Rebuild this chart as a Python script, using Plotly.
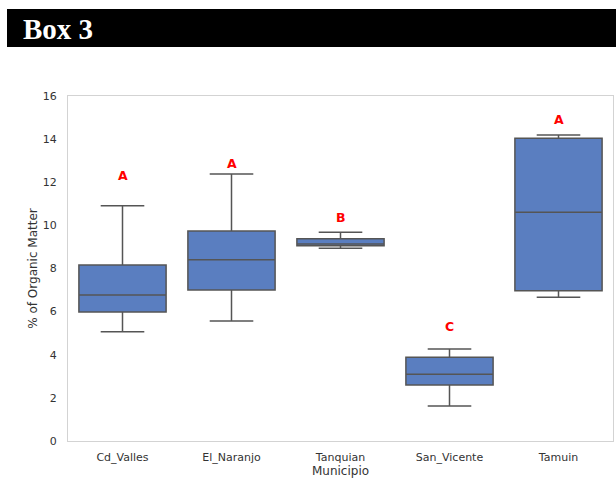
import plotly.graph_objects as go

categories = ["Cd_Valles", "El_Naranjo", "Tanquian", "San_Vicente", "Tamuin"]
lower_whisker = [5.07, 5.57, 8.94, 1.62, 6.67]
q1_values = [5.98, 7.00, 9.06, 2.60, 6.97]
median_values = [6.77, 8.41, 9.14, 3.09, 10.61]
q3_values = [8.16, 9.74, 9.38, 3.88, 14.04]
upper_whisker = [10.91, 12.38, 9.68, 4.27, 14.19]
letters = ["A", "A", "B", "C", "A"]
letter_y = [12.3, 12.85, 10.35, 5.3, 14.9]
y_ticks = [0, 2, 4, 6, 8, 10, 12, 14, 16]

W, H = 616, 480
L, T = 68, 96
R = W - 613
B = H - 441
pw, ph = W - L - R, H - T - B


def px_x(p):
    return (p - L) / pw


def px_y(p):
    return (H - B - p) / ph


fig = go.Figure()
fig.add_trace(go.Box(
    x=categories,
    q1=q1_values,
    median=median_values,
    q3=q3_values,
    lowerfence=lower_whisker,
    upperfence=upper_whisker,
    fillcolor="#5A7EC0",
    line=dict(color="#555555", width=1.5),
    whiskerwidth=0.5,
    width=0.8,
    boxpoints=False,
    hoverinfo="skip",
    showlegend=False,
))

for c, t, yv in zip(categories, letters, letter_y):
    fig.add_annotation(x=c, y=yv, text="<b>" + t + "</b>", showarrow=False,
                       font=dict(color="red", size=12.5, family="DejaVu Sans"),
                       xref="x", yref="y")

# banner
fig.add_shape(type="rect", xref="paper", yref="paper",
              x0=px_x(7), x1=px_x(620), y0=px_y(47), y1=px_y(9),
              fillcolor="black", line=dict(width=0), layer="above")
fig.add_annotation(xref="paper", yref="paper", x=px_x(21), y=px_y(29),
                   xanchor="left", yanchor="middle", showarrow=False,
                   text="<b>Box 3</b>",
                   font=dict(family="Liberation Serif", size=29, color="white"))

fig.update_layout(
    width=W, height=H,
    margin=dict(l=L, r=R, t=T, b=B),
    paper_bgcolor="white", plot_bgcolor="white",
    font=dict(family="DejaVu Sans", color="#333333", size=11),
)
fig.update_xaxes(
    range=[-0.5, len(categories) - 0.5],
    showline=True, mirror=True, linecolor="#d3d3d3", linewidth=1,
    showgrid=False, ticks="", ticklabelstandoff=6,
    title=dict(text="Municipio", font=dict(size=12), standoff=0),
    tickfont=dict(size=11),
)
fig.update_yaxes(
    range=[0, 16], tickvals=y_ticks,
    showline=True, mirror=True, linecolor="#d3d3d3", linewidth=1,
    showgrid=False, zeroline=False, ticks="", ticklabelstandoff=8,
    title=dict(text="% of Organic Matter", font=dict(size=12), standoff=2),
    tickfont=dict(size=11),
)

fig.write_html(
    "out.html",
    config={"displayModeBar": False},
    post_script="document.body.style.margin='0';document.body.style.overflow='hidden';",
)
